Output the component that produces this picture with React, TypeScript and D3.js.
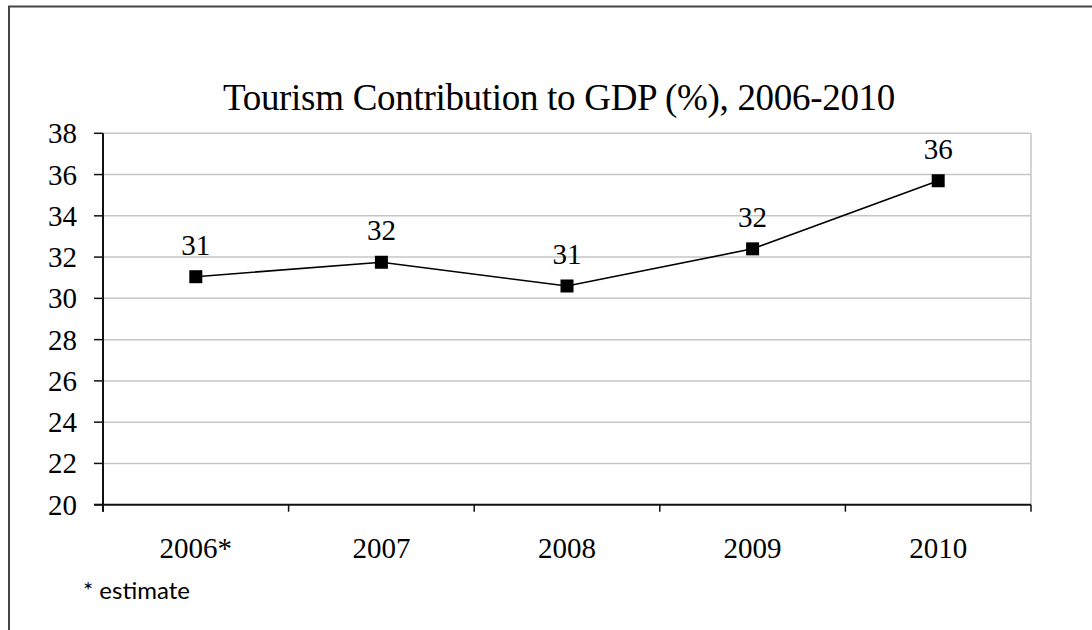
import React from "react";
import * as d3 from "d3";

const categories = ["2006*", "2007", "2008", "2009", "2010"];
const values = [31.05, 31.75, 30.6, 32.4, 35.7];
const valueLabels = ["31", "32", "31", "32", "36"];
const yTicks = [20, 22, 24, 26, 28, 30, 32, 34, 36, 38];
const title = "Tourism Contribution to GDP (%), 2006-2010";
const note = "* estimate";

const W = 1092;
const H = 630;
const plot = { left: 103, right: 1031, top: 133.3, bottom: 504.7 };

export default function App() {
  const x = d3
    .scaleBand<string>()
    .domain(categories)
    .range([plot.left, plot.right])
    .paddingInner(0)
    .paddingOuter(0);
  const y = d3.scaleLinear().domain([20, 38]).range([plot.bottom, plot.top]);
  const cx = (c: string) => (x(c) ?? 0) + x.bandwidth() / 2;
  const pts = categories.map((c, i) => [cx(c), y(values[i])] as [number, number]);
  const line = d3.line()(pts) ?? "";
  const serif = "'Liberation Serif', 'Times New Roman', serif";
  const boundaries = [...categories.map((c) => x(c) ?? 0), plot.right];

  return (
    <svg
      width={W}
      height={H}
      style={{ position: "absolute", left: 0, top: 0, background: "#fff" }}
    >
      <rect x={0} y={0} width={W} height={H} fill="#fff" />
      <rect x={9} y={6.5} width={W + 20} height={H + 20} fill="none" stroke="#444" strokeWidth={2} />
      <text x={559} y={110} textAnchor="middle" fontFamily={serif} fontSize={37} fill="#000" letterSpacing={-0.3}>
        {title}
      </text>
      {yTicks.map((t) => (
        <g key={t}>
          {t !== 20 && (
            <line x1={plot.left} x2={plot.right} y1={y(t)} y2={y(t)} stroke="#c6c6c6" strokeWidth={1.5} />
          )}
          <line x1={94} x2={plot.left} y1={y(t)} y2={y(t)} stroke="#111" strokeWidth={1.5} />
          <text x={77} y={y(t) + 10} textAnchor="end" fontFamily={serif} fontSize={29} fill="#000">
            {t}
          </text>
        </g>
      ))}
      <line x1={plot.right} x2={plot.right} y1={plot.top} y2={plot.bottom} stroke="#c6c6c6" strokeWidth={1.5} />
      <line x1={plot.left} x2={plot.left} y1={plot.top} y2={plot.bottom + 7} stroke="#111" strokeWidth={2} />
      <line x1={plot.left - 9} x2={plot.right} y1={plot.bottom} y2={plot.bottom} stroke="#111" strokeWidth={2} />
      {boundaries.map((b, i) => (
        <line key={i} x1={b} x2={b} y1={plot.bottom} y2={plot.bottom + 7} stroke="#111" strokeWidth={1.5} />
      ))}
      {categories.map((c) => (
        <text key={c} x={cx(c)} y={558} textAnchor="middle" fontFamily={serif} fontSize={29} fill="#000">
          {c}
        </text>
      ))}
      <path d={line} fill="none" stroke="#000" strokeWidth={1.6} />
      {pts.map(([px, py], i) => (
        <g key={i}>
          <rect x={px - 6.5} y={py - 6.5} width={13} height={13} fill="#000" />
          <text x={px} y={py - 22} textAnchor="middle" fontFamily={serif} fontSize={29} fill="#000">
            {valueLabels[i]}
          </text>
        </g>
      ))}
      <text x={83} y={599} fontFamily="Lato, 'Open Sans', sans-serif" fontSize={24} fill="#000">
        {note}
      </text>
    </svg>
  );
}
